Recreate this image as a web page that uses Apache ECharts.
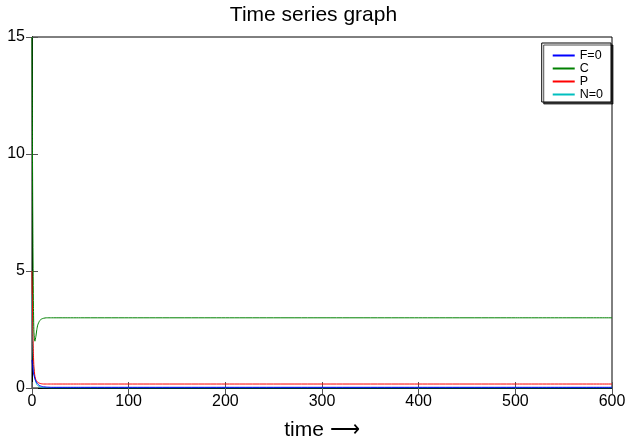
<!DOCTYPE html>
<html>
<head>
<meta charset="utf-8">
<script src="https://cdn.jsdelivr.net/npm/echarts@6/dist/echarts.min.js"></script>
<style>
  html, body { margin: 0; padding: 0; background: #fff; }
  #chart { width: 627px; height: 444px; }
</style>
</head>
<body>
<div id="chart"></div>
<script>
// time samples (denser near the start where the transient happens)
var timePts = [0, 0.5, 1, 1.5, 2, 3, 4, 5, 6, 8, 10, 12, 15, 20, 30, 50, 100, 200, 300, 400, 500, 600];
var seriesF = [1.2, 1.0, 0.8, 0.65, 0.55, 0.4, 0.3, 0.22, 0.17, 0.1, 0.07, 0.05, 0.04, 0.03, 0.03, 0.03, 0.03, 0.03, 0.03, 0.03, 0.03, 0.03];
var seriesC = [15, 10, 6, 3.5, 2.4, 2.0, 2.2, 2.5, 2.7, 2.88, 2.95, 2.98, 3.0, 3.0, 3.0, 3.0, 3.0, 3.0, 3.0, 3.0, 3.0, 3.0];
var seriesP = [5, 3.5, 2.2, 1.4, 0.9, 0.5, 0.35, 0.28, 0.24, 0.2, 0.18, 0.17, 0.17, 0.17, 0.17, 0.17, 0.17, 0.17, 0.17, 0.17, 0.17, 0.17];
var seriesN = [4, 2.6, 1.6, 1.0, 0.7, 0.4, 0.25, 0.15, 0.1, 0.05, 0.02, 0.01, 0.01, 0, 0, 0, 0, 0, 0, 0, 0, 0];
var names = ['F=0', 'C', 'P', 'N=0'];
var colors = ['#0000ff', '#008000', '#ff0000', '#00bfbf'];

function pairs(vals) {
  var out = [];
  for (var i = 0; i < timePts.length; i++) {
    out.push([timePts[i], vals[i]]);
  }
  return out;
}

var font = 'Liberation Sans, Arial, Helvetica, sans-serif';
var allVals = [seriesF, seriesC, seriesP, seriesN];
// draw order: cyan, red, green, blue last so blue sits on top at bottom
var drawOrder = [3, 2, 1, 0];
var series = [];
for (var k = 0; k < drawOrder.length; k++) {
  var i = drawOrder[k];
  series.push({
    name: names[i],
    type: 'line',
    data: pairs(allVals[i]),
    showSymbol: false,
    smooth: 0.2,
    lineStyle: { color: colors[i], width: 1 },
    itemStyle: { color: colors[i] },
    z: 2 + k,
    animation: false
  });
}

function tickStyle() {
  return { inside: true, length: 6, lineStyle: { color: '#555' } };
}

var myChart = echarts.init(document.getElementById('chart'));
myChart.setOption({
  backgroundColor: '#ffffff',
  animation: false,
  title: {
    text: 'Time series graph',
    left: 'center',
    top: 0,
    textStyle: { fontFamily: font, fontSize: 21, fontWeight: 'normal', color: '#000' }
  },
  legend: {
    data: names,
    orient: 'vertical',
    right: 16,
    top: 43,
    padding: [6, 8, 1, 11],
    itemWidth: 22,
    itemHeight: 2,
    itemGap: 0,
    icon: 'rect',
    backgroundColor: '#fff',
    borderColor: '#000',
    borderWidth: 1,
    shadowColor: 'rgba(0,0,0,0.7)',
    shadowOffsetX: 2,
    shadowOffsetY: 2,
    shadowBlur: 0,
    textStyle: { fontFamily: font, fontSize: 12.5, color: '#000', lineHeight: 12.5 }
  },
  grid: {
    left: 32,
    right: 15,
    top: 37,
    bottom: 56,
    outerBoundsMode: 'none',
    show: true,
    borderColor: '#000',
    borderWidth: 1
  },
  xAxis: [{
    type: 'value',
    min: 0,
    max: 600,
    interval: 100,
    name: 'time \u27f6',
    nameLocation: 'middle',
    nameGap: 32,
    nameTextStyle: { fontFamily: font, fontSize: 21, color: '#000' },
    axisLine: { show: true, lineStyle: { color: '#000' } },
    axisTick: tickStyle(),
    axisLabel: { fontFamily: font, fontSize: 16, color: '#000', margin: 6 },
    splitLine: { show: false }
  }, {
    type: 'value',
    position: 'top',
    min: 0,
    max: 600,
    interval: 100,
    axisLine: { show: true, lineStyle: { color: '#000' } },
    axisTick: tickStyle(),
    axisLabel: { show: false },
    splitLine: { show: false }
  }],
  yAxis: [{
    type: 'value',
    min: 0,
    max: 15,
    interval: 5,
    axisLine: { show: true, lineStyle: { color: '#000' } },
    axisTick: tickStyle(),
    axisLabel: { fontFamily: font, fontSize: 16, color: '#000', margin: 7 },
    splitLine: { show: false }
  }, {
    type: 'value',
    position: 'right',
    min: 0,
    max: 15,
    interval: 5,
    axisLine: { show: true, lineStyle: { color: '#000' } },
    axisTick: tickStyle(),
    axisLabel: { show: false },
    splitLine: { show: false }
  }],
  series: series
});
</script>
</body>
</html>
